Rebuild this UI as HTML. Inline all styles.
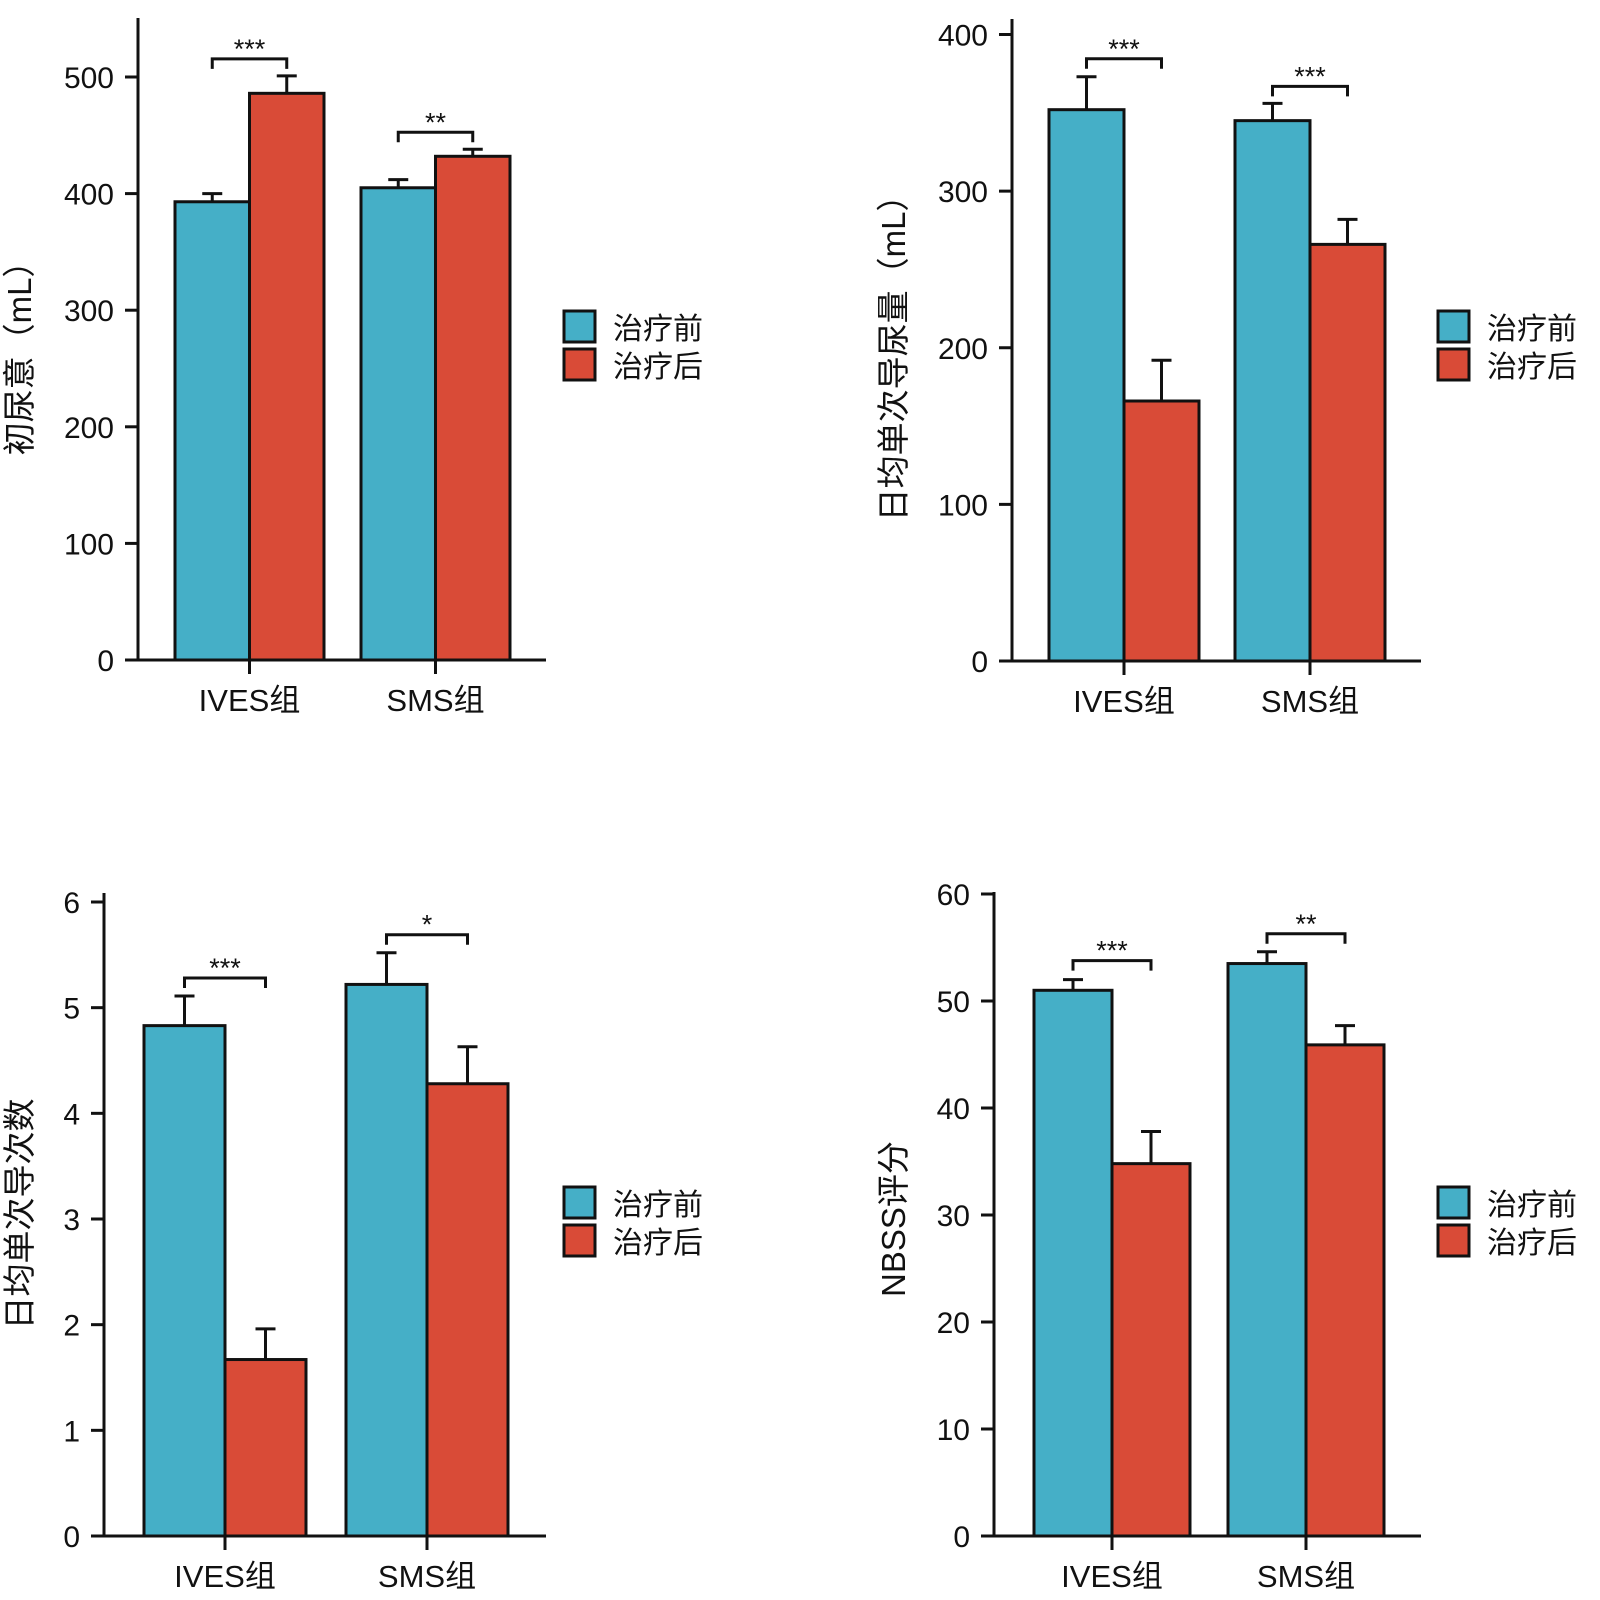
<!DOCTYPE html>
<html><head><meta charset="utf-8">
<style>
html,body{margin:0;padding:0;background:#fff;}
svg{display:block;}
text{font-family:"Liberation Sans","Noto Sans CJK SC",sans-serif;fill:#111;}
</style></head>
<body>
<svg id="fig" width="1600" height="1600" viewBox="0 0 1600 1600"></svg>
<script>
const categories = ["IVES组", "SMS组"];
const seriesNames = ["治疗前", "治疗后"];
// chart 1: 初尿意
const c1Before = [393, 405];
const c1BeforeErr = [7, 7];
const c1After = [486, 432];
const c1AfterErr = [15, 6];
const c1Ticks = [0, 100, 200, 300, 400, 500];
const c1Stars = ["***", "**"];
// chart 2: 日均单次导尿量
const c2Before = [352, 345];
const c2BeforeErr = [21, 11];
const c2After = [166, 266];
const c2AfterErr = [26, 16];
const c2Ticks = [0, 100, 200, 300, 400];
const c2Stars = ["***", "***"];
// chart 3: 日均单次导次数
const c3Before = [4.83, 5.22];
const c3BeforeErr = [0.28, 0.3];
const c3After = [1.67, 4.28];
const c3AfterErr = [0.29, 0.35];
const c3Ticks = [0, 1, 2, 3, 4, 5, 6];
const c3Stars = ["***", "*"];
// chart 4: NBSS评分
const c4Before = [51.0, 53.5];
const c4BeforeErr = [1.0, 1.1];
const c4After = [34.8, 45.9];
const c4AfterErr = [3.0, 1.8];
const c4Ticks = [0, 10, 20, 30, 40, 50, 60];
const c4Stars = ["***", "**"];

const NS = "http://www.w3.org/2000/svg";
const svg = document.getElementById("fig");
function mk(tag, attrs, parent, txt) {
  const e = document.createElementNS(NS, tag);
  for (const k in attrs) e.setAttribute(k, attrs[k]);
  if (txt !== undefined) e.textContent = txt;
  parent.appendChild(e);
  return e;
}
const BLUE = "#45afc7", RED = "#d94b37";

function drawChart(o) {
  const g = mk("g", {}, svg);
  
  
  const yMax = o.ticks[o.ticks.length - 1];
  const y = v => o.base - (v / yMax) * (o.base - o.topTick);
  for (let i = 0; i < categories.length; i++) {
    const x0 = o.groupX[i];
    const w = o.barW;
    const vals = [o.before[i], o.after[i]];
    const errs = [o.beforeErr[i], o.afterErr[i]];
    for (let s = 0; s < 2; s++) {
      const bx = x0 + s * w;
      const cx = bx + w / 2;
      const eb = mk("line", {x1: cx, x2: cx, y1: y(vals[s]), y2: y(vals[s] + errs[s]), stroke: "#111", "stroke-width": 3}, g);
      
      
      const cap = mk("line", {x1: cx - 10, x2: cx + 10, y1: y(vals[s] + errs[s]), y2: y(vals[s] + errs[s]), stroke: "#111", "stroke-width": 3}, g);
      
      
      const r = mk("rect", {x: bx, y: y(vals[s]), width: w, height: o.base - y(vals[s]), fill: s ? RED : BLUE, stroke: "#111", "stroke-width": 3}, g);
      
      
    }
    const bTop = y(Math.max(o.before[i] + o.beforeErr[i], o.after[i] + o.afterErr[i])) - o.brGap[i];
    const xl = x0 + w / 2, xr = x0 + w * 1.5;
    const br = mk("path", {d: `M${xl},${bTop + 10} V${bTop} H${xr} V${bTop + 10}`, fill: "none", stroke: "#111", "stroke-width": 3}, g);
    
    
    const st = mk("text", {x: (xl + xr) / 2, y: bTop - 1, "text-anchor": "middle", "font-size": 27}, g, o.stars[i]);
    
    
    mk("line", {x1: x0 + w, x2: x0 + w, y1: o.base, y2: o.base + 14, stroke: "#111", "stroke-width": 3}, g);
    const xl2 = mk("text", {x: x0 + w, y: o.base + 51, "text-anchor": "middle", "font-size": 31}, g, categories[i]);
    
    
  }
  const ya = mk("line", {x1: o.axisX, x2: o.axisX, y1: o.axisTop, y2: o.base + 1.5, stroke: "#111", "stroke-width": 3}, g);
  
  
  const xa = mk("line", {x1: o.axisX - 13, x2: o.xEnd, y1: o.base, y2: o.base, stroke: "#111", "stroke-width": 3}, g);
  
  
  for (const t of o.ticks) {
    mk("line", {x1: o.axisX - 13, x2: o.axisX, y1: y(t), y2: y(t), stroke: "#111", "stroke-width": 3}, g);
    const tl = mk("text", {x: o.axisX - 24, y: y(t) + 11, "text-anchor": "end", "font-size": 30}, g, String(t));
    
    
  }
  const yt = mk("text", {x: 0, y: 0, "text-anchor": "middle", "font-size": 33, transform: `translate(${o.ylX},${o.ylY}) rotate(-90)`}, g, o.ylabel);
  
  
  for (let s = 0; s < 2; s++) {
    const ly = o.legY + s * 38;
    const lr = mk("rect", {x: o.legX, y: ly, width: 31, height: 31, fill: s ? RED : BLUE, stroke: "#111", "stroke-width": 3}, g);
    
    
    const lt = mk("text", {x: o.legX + 49, y: ly + 28, "font-size": 30}, g, seriesNames[s]);
    
    
  }
}

drawChart({name: "chart-initial-urge", before: c1Before, beforeErr: c1BeforeErr, after: c1After, afterErr: c1AfterErr,
  ticks: c1Ticks, stars: c1Stars, axisX: 138, axisTop: 18, base: 660, topTick: 77, xEnd: 546,
  groupX: [175, 361], barW: 74.5, brGap: [17, 17], ylabel: "初尿意（mL）", ylX: 31, ylY: 350, legX: 564, legY: 311});
drawChart({name: "chart-daily-catheter-volume", before: c2Before, beforeErr: c2BeforeErr, after: c2After, afterErr: c2AfterErr,
  ticks: c2Ticks, stars: c2Stars, axisX: 1012, axisTop: 19, base: 661, topTick: 34.5, xEnd: 1421,
  groupX: [1049, 1235], barW: 75, brGap: [18, 17], ylabel: "日均单次导尿量（mL）", ylX: 905, ylY: 350, legX: 1438, legY: 311});
drawChart({name: "chart-daily-catheter-count", before: c3Before, beforeErr: c3BeforeErr, after: c3After, afterErr: c3AfterErr,
  ticks: c3Ticks, stars: c3Stars, axisX: 104, axisTop: 893, base: 1536, topTick: 902, xEnd: 546,
  groupX: [144, 346], barW: 81, brGap: [18, 18], ylabel: "日均单次导次数", ylX: 31, ylY: 1214, legX: 564, legY: 1187});
drawChart({name: "chart-nbss-score", before: c4Before, beforeErr: c4BeforeErr, after: c4After, afterErr: c4AfterErr,
  ticks: c4Ticks, stars: c4Stars, axisX: 994, axisTop: 892, base: 1536, topTick: 894, xEnd: 1421,
  groupX: [1034, 1228], barW: 78, brGap: [19, 18], ylabel: "NBSS评分", ylX: 905, ylY: 1219, legX: 1438, legY: 1187});
</script>
</body></html>
